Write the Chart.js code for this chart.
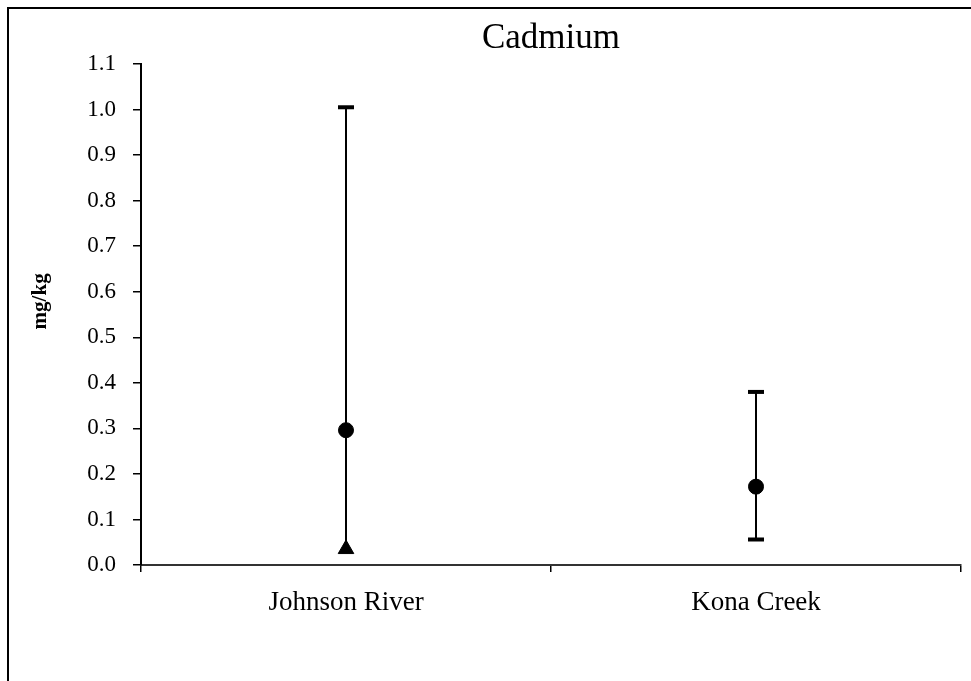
<!DOCTYPE html>
<html>
<head>
<meta charset="utf-8">
<script src="https://cdn.jsdelivr.net/npm/chart.js@4/dist/chart.umd.min.js"></script>
<style>
  html, body { margin: 0; padding: 0; background: #fff; }
  #wrap { width: 971px; height: 681px; position: relative; }
</style>
</head>
<body>
<div id="wrap"><canvas id="c"></canvas></div>
<script>
// Cadmium concentrations by site (mg/kg)
const sites = ['Johnson River', 'Kona Creek'];
const meanValues = [0.296, 0.172];
const minValues = [0.035, 0.056];
const maxValues = [1.005, 0.380];
// how the lower end of each range is marked
const minMarkers = ['triangle', 'cap'];
const yTickValues = [0.0, 0.1, 0.2, 0.3, 0.4, 0.5, 0.6, 0.7, 0.8, 0.9, 1.0, 1.1];

const serif = "'Liberation Serif', 'Times New Roman', serif";

// range bars (min to max) drawn under the point markers
const rangeBars = {
  id: 'rangeBars',
  beforeDatasetsDraw(chart) {
    const { ctx, scales: { x, y } } = chart;
    ctx.save();
    ctx.strokeStyle = '#000';
    ctx.fillStyle = '#000';
    sites.forEach((s, i) => {
      const px = x.getPixelForValue(i);
      const top = y.getPixelForValue(maxValues[i]);
      const bot = y.getPixelForValue(minValues[i]);
      ctx.lineWidth = 2;
      ctx.beginPath();
      ctx.moveTo(px, top);
      ctx.lineTo(px, bot);
      ctx.stroke();
      ctx.fillRect(px - 8, top - 2, 16, 4);
      if (minMarkers[i] === 'cap') ctx.fillRect(px - 8, bot - 2, 16, 4);
    });
    ctx.restore();
  }
};

// white page with the frame line along the left and top
const frame = {
  id: 'frame',
  beforeDraw(chart) {
    const { ctx, width, height } = chart;
    ctx.save();
    ctx.fillStyle = '#fff';
    ctx.fillRect(0, 0, width, height);
    ctx.strokeStyle = '#000';
    ctx.lineWidth = 2;
    ctx.beginPath();
    ctx.moveTo(8, height);
    ctx.lineTo(8, 8);
    ctx.lineTo(width, 8);
    ctx.stroke();
    ctx.restore();
  }
};

new Chart(document.getElementById('c'), {
  type: 'line',
  data: {
    labels: sites,
    datasets: [
      {
        label: 'Mean',
        data: meanValues,
        showLine: false,
        pointStyle: 'circle',
        pointRadius: 7.5,
        pointHoverRadius: 7.5,
        backgroundColor: '#000',
        borderColor: '#000',
        borderWidth: 1
      },
      {
        label: 'Minimum',
        data: minValues.map((v, i) => minMarkers[i] === 'triangle' ? v : null),
        showLine: false,
        pointStyle: 'triangle',
        pointRadius: 9,
        pointHoverRadius: 9,
        backgroundColor: '#000',
        borderColor: '#000',
        borderWidth: 1
      }
    ]
  },
  options: {
    responsive: true,
    maintainAspectRatio: false,
    animation: false,
    layout: { padding: { left: 0, right: 8, top: 0, bottom: 0 } },
    plugins: {
      legend: { display: false },
      tooltip: { enabled: false },
      title: {
        display: true,
        text: 'Cadmium',
        fullSize: false,
        color: '#000',
        font: { family: serif, size: 35, weight: 'normal' },
        padding: { top: 18, bottom: 4 }
      }
    },
    scales: {
      x: {
        type: 'category',
        offset: true,
        grid: { offset: true, drawOnChartArea: false, drawTicks: true, tickLength: 7, color: '#000', lineWidth: 1.5 },
        border: { color: '#333', width: 2 },
        ticks: { color: '#000', font: { family: serif, size: 27 }, padding: 15, maxRotation: 0 },
        afterFit(s) { s.height = 116; }
      },
      y: {
        min: 0,
        max: 1.1,
        afterBuildTicks(s) { s.ticks = yTickValues.map(v => ({ value: v })); },
        grid: { drawOnChartArea: false, drawTicks: true, tickLength: 8, color: '#000', lineWidth: 1.5 },
        border: { color: '#000', width: 2 },
        ticks: {
          color: '#000',
          font: { family: serif, size: 23 },
          padding: 17,
          callback: v => Number(v).toFixed(1)
        },
        title: {
          display: true,
          // leading spaces lift the label a little above the axis midpoint
          text: '\u2002\u2002 mg/kg',
          color: '#000',
          font: { family: serif, size: 21, weight: 'bold' },
          padding: { top: 28, bottom: 0 }
        },
        afterFit(s) { s.width = 141; }
      }
    }
  },
  plugins: [frame, rangeBars]
});
</script>
</body>
</html>
